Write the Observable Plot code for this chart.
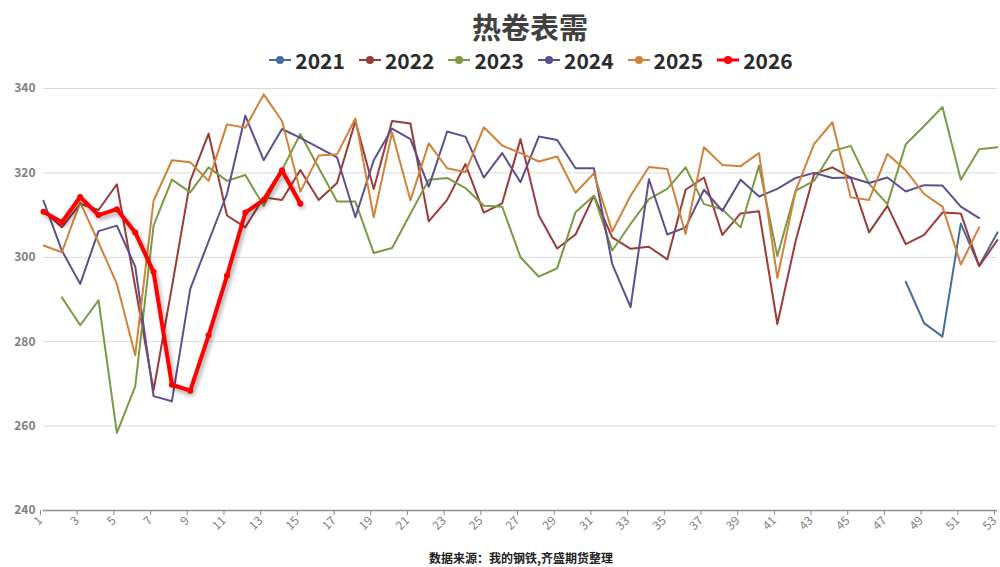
<!DOCTYPE html>
<html><head><meta charset="utf-8">
<script src="https://cdn.jsdelivr.net/npm/d3@7"></script>
<script src="https://cdn.jsdelivr.net/npm/@observablehq/plot@0.6"></script>
<style>
body{margin:0;background:#fff;font-family:"Noto Sans CJK SC","Noto Sans",sans-serif;}
#wrap{position:relative;width:1000px;height:567px;overflow:hidden;background:#fff;}
#title{position:absolute;top:6px;left:0;width:1060px;text-align:center;font-size:29px;font-weight:bold;color:#404040;line-height:40px;}
#legend{position:absolute;top:45px;left:0;width:1062px;display:flex;justify-content:center;font-size:21px;font-weight:bold;color:#2b2b2b;line-height:30px;}
.item{display:flex;align-items:center;margin:0 7px;}
.item svg{margin-right:4px;}
#chart{position:absolute;top:78px;left:0;}
#caption{position:absolute;top:548px;left:0;width:1042px;text-align:center;font-size:12px;font-weight:bold;color:#222;line-height:20px;}
</style>
</head><body>
<div id="wrap">
<div id="title">热卷表需</div>
<div id="legend"></div>
<div id="chart"></div>
<div id="caption">数据来源：我的钢铁,齐盛期货整理</div>
</div>
<script>
const weeks = [1,2,3,4,5,6,7,8,9,10,11,12,13,14,15,16,17,18,19,20,21,22,23,24,25,26,27,28,29,30,31,32,33,34,35,36,37,38,39,40,41,42,43,44,45,46,47,48,49,50,51,52,53];
const xTicks = [1,3,5,7,9,11,13,15,17,19,21,23,25,27,29,31,33,35,37,39,41,43,45,47,49,51,53];
const yTicks = [240,260,280,300,320,340];
const seriesNames = ["2021","2022","2023","2024","2025","2026"];
const seriesColors = ["#466c9e","#9a3b38","#7a9a45","#5f4e8c","#d0823a","#ff0000"];

const y2021 = [null,null,null,null,null,null,null,null,null,null,null,null,null,null,null,null,null,null,null,null,null,null,null,null,null,null,null,null,null,null,null,null,null,null,null,null,null,null,null,null,null,null,null,null,null,null,null,294.2,284.4,281.2,308.0,298.0,305.9];
const y2022 = [311.0,307.1,312.7,311.2,317.3,293.0,268.5,293.0,318.1,329.3,309.9,307.1,314.2,313.6,320.7,313.6,317.6,332.3,316.2,332.3,331.7,308.5,313.6,322.1,310.6,312.8,328.0,309.9,302.1,305.4,314.6,304.7,302.0,302.5,299.5,316.0,318.9,305.3,310.4,310.9,284.2,303.9,319.7,321.3,318.9,305.9,312.2,303.1,305.3,310.6,310.4,297.9,304.1];
const y2023 = [null,290.5,283.9,289.8,258.4,269.4,307.5,318.4,315.4,321.3,318.1,319.5,312.2,320.7,329.2,321.2,313.2,313.2,301.0,302.2,310.3,318.4,318.8,316.4,312.2,312.0,300.0,295.4,297.4,310.7,314.6,301.6,307.9,313.8,316.2,321.3,312.6,311.4,307.1,321.7,300.3,315.8,318.1,325.2,326.4,317.4,312.6,326.8,331.1,335.6,318.4,325.6,326.1];
const y2024 = [313.4,301.6,293.7,306.2,307.5,297.8,267.1,265.9,292.5,303.8,315.0,333.6,323.0,330.4,328.3,326.0,323.7,309.5,323.0,330.5,328.0,316.7,329.8,328.6,318.9,324.7,317.8,328.6,327.8,321.1,321.1,298.4,288.2,318.5,305.4,307.1,316.0,311.0,318.4,314.4,316.2,318.8,320.0,318.8,318.9,317.6,318.9,315.6,317.1,317.0,312.0,309.3,null];
const y2025 = [302.8,301.2,313.0,303.5,293.7,276.8,313.4,323.0,322.5,318.1,331.5,330.7,338.6,332.3,315.6,324.1,324.4,332.9,309.5,329.6,313.5,327.0,321.1,320.2,330.8,326.5,324.7,322.7,323.9,315.3,319.9,306.1,314.6,321.4,320.9,305.5,326.1,321.9,321.6,324.7,295.1,315.8,326.8,332.0,314.2,313.6,324.5,320.6,315.0,312.0,298.3,307.1,null];
const y2026 = [310.8,308.3,314.3,310.0,311.4,305.9,296.5,269.8,268.4,281.5,295.6,310.6,313.6,320.6,312.7];

const allSeries = [y2021,y2022,y2023,y2024,y2025,y2026];

// legend
const leg = document.getElementById("legend");
seriesNames.forEach((n,i)=>{
  const it = document.createElement("div");
  it.className="item";
  it.innerHTML = `<svg width="22" height="12"><line x1="0" y1="6" x2="22" y2="6" stroke="${seriesColors[i]}" stroke-width="${i===5?3:2}"/><circle cx="11" cy="6" r="4" fill="${seriesColors[i]}"/></svg><span>${n}</span>`;
  leg.appendChild(it);
});

const tables = allSeries.map((vals,si)=>vals.map((v,i)=>({week:weeks[i], v:v})));

const marks = [
  Plot.gridY(yTicks, {stroke:"#d9d9d9", strokeOpacity:1}),
  Plot.axisY(yTicks, {tickSize:0, tickPadding:8, fontSize:12, fontWeight:"bold", fill:"#7f7f7f"}),
  Plot.axisX(xTicks, {tickSize:5, tickRotate:-45, tickPadding:3, dx:-3, fontSize:12, fill:"#7f7f7f", stroke:"#8c8c8c", tickFormat:d=>String(d)}),
  Plot.ruleY([240], {stroke:"#8c8c8c", strokeWidth:1.5}),
];
for (let si=0; si<5; si++) {
  marks.push(Plot.line(tables[si], {x:"week", y:"v", stroke:seriesColors[si], strokeWidth:2}));
}
marks.push(Plot.line(tables[5], {x:"week", y:"v", stroke:"#ff0000", strokeWidth:4, strokeLinejoin:"round"}));
marks.push(Plot.dot(tables[5], {x:"week", y:"v", fill:"#ff0000", r:3}));

const chart = Plot.plot({
  width:1000, height:470,
  marginTop:10, marginBottom:38, marginLeft:43, marginRight:3,
  style:{fontFamily:"'Noto Sans CJK SC','Noto Sans',sans-serif", background:"transparent"},
  x:{domain:[1,53], label:null},
  y:{domain:[240,340], label:null},
  marks
});
document.getElementById("chart").appendChild(chart);
d3.select(chart).selectAll('[stroke="#ff0000"]').style("filter","drop-shadow(2px 3px 2px rgba(0,0,0,0.35))");
</script>
</body></html>
